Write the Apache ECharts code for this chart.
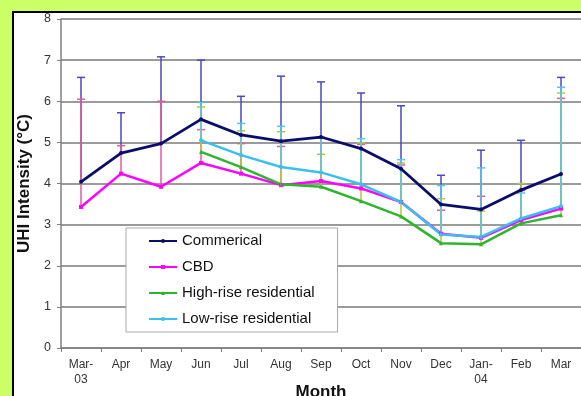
<!DOCTYPE html>
<html>
<head>
<meta charset="utf-8">
<script src="https://cdn.jsdelivr.net/npm/echarts@6/dist/echarts.min.js"></script>
<style>
  html, body { margin: 0; padding: 0; width: 581px; height: 396px; overflow: hidden; background: #ccff66; }
  #frame { position: absolute; left: 12px; top: 11px; width: 569px; height: 385px;
           background: #ffffff; border-left: 2px solid #000000; border-top: 2px solid #000000;
           box-sizing: border-box; }
  #chart { position: absolute; left: 0; top: 0; width: 581px; height: 396px; }
</style>
</head>
<body>
<div id="frame"></div>
<div id="chart"></div>
<script>
// Monthly mean urban heat island intensity by land-use zone, with upper error bars
const months = ['Mar-\n03', 'Apr', 'May', 'Jun', 'Jul', 'Aug', 'Sep', 'Oct', 'Nov', 'Dec', 'Jan-\n04', 'Feb', 'Mar'];

const commercial    = [4.04, 4.74, 4.97, 5.56, 5.18, 5.03, 5.13, 4.85, 4.36, 3.49, 3.37, 3.84, 4.23];
const commercialErr = [2.54, 0.98, 2.11, 1.44, 0.94, 1.58, 1.34, 1.35, 1.53, 0.71, 1.44, 1.21, 2.35];

const cbd    = [3.43, 4.24, 3.92, 4.50, 4.24, 3.96, 4.06, 3.88, 3.55, 2.78, 2.68, 3.11, 3.39];
const cbdErr = [2.62, 0.68, 2.08, 0.81, 0.73, 0.94, 1.04, 1.07, 0.90, 0.57, 1.01, 0.72, 2.68];

const highRise    = [null, null, null, 4.77, 4.40, 3.98, 3.92, 3.57, 3.20, 2.55, 2.52, 3.03, 3.23];
const highRiseErr = [null, null, null, 1.09, 0.88, 1.28, 0.79, 1.42, 1.30, 1.08, 0.81, 0.97, 2.97];

const lowRise    = [null, null, null, 5.05, 4.69, 4.40, 4.27, 3.98, 3.55, 2.76, 2.70, 3.15, 3.45];
const lowRiseErr = [null, null, null, 0.92, 0.77, 0.99, 0.86, 1.11, 1.03, 1.19, 1.68, 0.62, 2.89];

const yTicks = [0, 1, 2, 3, 4, 5, 6, 7, 8];

const FONT = 'Arial, "Liberation Sans", sans-serif';

// Upper-only error bar: stem from the mean up to mean + error, with a cap
function errorBars(name, values, errs, color) {
  const data = [];
  values.forEach((v, i) => {
    if (v != null && errs[i] != null) data.push([i, v, v + errs[i]]);
  });
  return {
    type: 'custom',
    name: name,
    data: data,
    encode: { x: 0, y: [1, 2] },
    silent: true,
    renderItem: function (params, api) {
      const i = api.value(0);
      const lo = api.coord([i, api.value(1)]);
      const hi = api.coord([i, api.value(2)]);
      const half = 4;
      const st = { stroke: color, lineWidth: 1.5 };
      return {
        type: 'group',
        children: [
          { type: 'line', shape: { x1: lo[0], y1: lo[1], x2: hi[0], y2: hi[1] }, style: st },
          { type: 'line', shape: { x1: hi[0] - half, y1: hi[1], x2: hi[0] + half, y2: hi[1] }, style: st }
        ]
      };
    }
  };
}

function lineSeries(name, values, color, width, symbol) {
  return {
    type: 'line',
    name: name,
    data: values,
    color: color,
    symbol: symbol,
    symbolSize: 4,
    showSymbol: true,
    connectNulls: false,
    lineStyle: { color: color, width: width },
    itemStyle: { color: color },
    emphasis: { disabled: true }
  };
}

const chart = echarts.init(document.getElementById('chart'), null, { renderer: 'canvas', width: 581, height: 396 });

chart.setOption({
  backgroundColor: 'transparent',
  animation: false,
  grid: { left: 61, right: 0, top: 19, bottom: 48, containLabel: false, outerBoundsMode: 'none' },
  xAxis: {
    type: 'category',
    data: months,
    boundaryGap: true,
    name: 'Month',
    nameLocation: 'middle',
    nameGap: 36,
    nameMoveOverlap: false,
    nameTextStyle: { fontFamily: FONT, fontSize: 17, fontWeight: 'bold', color: '#111' },
    axisLine: { lineStyle: { color: '#808080', width: 1.5 } },
    axisTick: { show: true, length: 4, lineStyle: { color: '#808080' } },
    axisLabel: { fontFamily: FONT, fontSize: 12, color: '#333', margin: 9, lineHeight: 15 },
    splitLine: { show: false }
  },
  yAxis: {
    type: 'value',
    min: yTicks[0],
    max: yTicks[yTicks.length - 1],
    interval: 1,
    name: 'UHI Intensity (°C)',
    nameLocation: 'middle',
    nameGap: 28,
    nameMoveOverlap: false,
    nameTextStyle: { fontFamily: FONT, fontSize: 17, fontWeight: 'bold', color: '#111' },
    axisLine: { show: true, lineStyle: { color: '#808080', width: 1.5 } },
    axisTick: { show: true, length: 4, lineStyle: { color: '#808080' } },
    axisLabel: { fontFamily: FONT, fontSize: 12.5, color: '#333', margin: 10 },
    splitLine: { show: true, lineStyle: { color: '#7a7a7a', width: 1.5 } }
  },
  legend: {
    orient: 'vertical',
    left: 126,
    top: 228,
    data: ['Commerical', 'CBD', 'High-rise residential', 'Low-rise residential'],
    backgroundColor: '#ffffff',
    borderColor: '#a8a8a8',
    borderWidth: 1,
    borderRadius: 0,
    padding: [5, 23, 5, 22],
    itemWidth: 28,
    itemHeight: 5,
    itemGap: 10,
    selectedMode: false,
    textStyle: { fontFamily: FONT, fontSize: 15, color: '#111', lineHeight: 16 }
  },
  series: [
    errorBars('Commerical error', commercial, commercialErr, '#4a48c4'),
    errorBars('CBD error', cbd, cbdErr, '#e45a9e'),
    errorBars('High-rise error', highRise, highRiseErr, '#b9c63c'),
    errorBars('Low-rise error', lowRise, lowRiseErr, '#58c6ec'),
    lineSeries('Commerical', commercial, '#0c0c6c', 2.8, 'circle'),
    lineSeries('CBD', cbd, '#ff00ff', 2.5, 'rect'),
    lineSeries('High-rise residential', highRise, '#2eb52e', 2.5, 'triangle'),
    lineSeries('Low-rise residential', lowRise, '#3bbfee', 2.5, 'circle')
  ]
});
</script>
</body>
</html>
